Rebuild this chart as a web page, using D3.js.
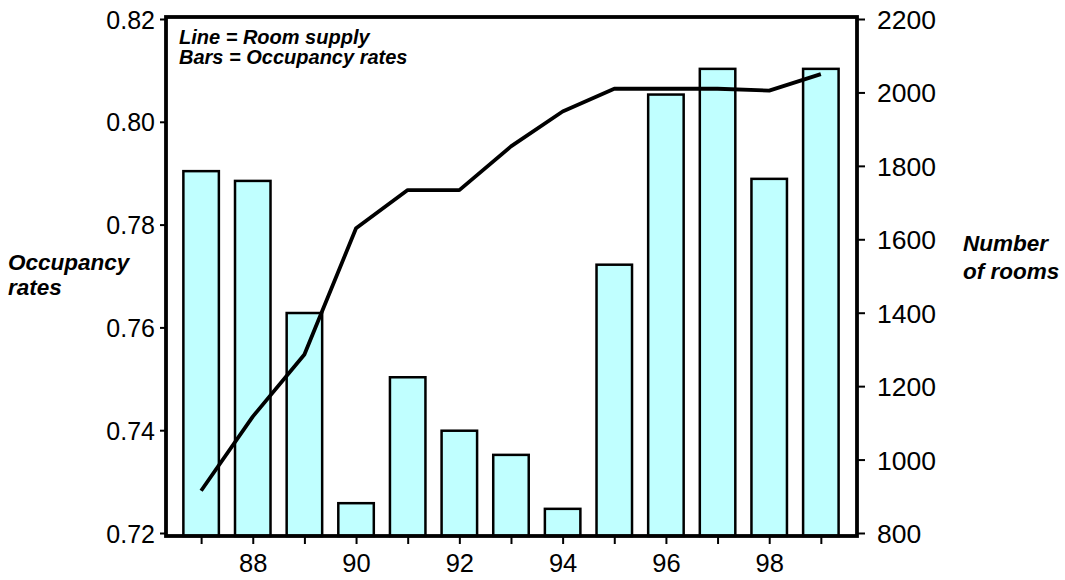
<!DOCTYPE html>
<html><head><meta charset="utf-8">
<script src="https://cdn.jsdelivr.net/npm/d3@7"></script>
<style>body{margin:0;background:#fff}svg{display:block}text{font-family:"Liberation Sans",Arial,sans-serif}</style>
</head><body>
<svg id="c" width="1065" height="580"></svg>
<script>
const years = [87,88,89,90,91,92,93,94,95,96,97,98,99];
const occupancy = [0.7904,0.7885,0.7628,0.7258,0.7503,0.7399,0.7352,0.7247,0.7722,0.8053,0.8103,0.7889,0.8103];
const rooms = [915,1117,1286,1630,1734,1734,1853,1948,2010,2010,2010,2005,2050];
const leftTicks = [0.72,0.74,0.76,0.78,0.80,0.82];
const rightTicks = [800,1000,1200,1400,1600,1800,2000,2200];
const xLabelYears = [88,90,92,94,96,98];

const svg = d3.select("#c");
const L = 166, R = 857, T = 17, B = 536;
const x = d3.scaleLinear().domain([86.32, 99.7]).range([L, R]);
const yL = d3.scaleLinear().domain([0.72, 0.82]).range([533, 19]);
const yR = d3.scaleLinear().domain([800, 2200]).range([533, 19]);
const barW = 35.5;

// bars
svg.append("g").selectAll("rect").data(years).join("rect")
  .attr("x", (d) => x(d) - barW/2)
  .attr("y", (d,i) => yL(occupancy[i]))
  .attr("width", barW)
  .attr("height", (d,i) => B - yL(occupancy[i]))
  .attr("fill", "#C0FFFF").attr("stroke", "#000").attr("stroke-width", 2.5);

// line
svg.append("path").datum(years)
  .attr("d", d3.line().x((d) => x(d)).y((d,i) => yR(rooms[i])))
  .attr("fill", "none").attr("stroke", "#000").attr("stroke-width", 3.8)
  .attr("stroke-linejoin", "round");

// frame
svg.append("rect").attr("x", L).attr("y", T).attr("width", R - L).attr("height", B - T)
  .attr("fill", "none").attr("stroke", "#000").attr("stroke-width", 3.8);

const axL = svg.append("g").attr("transform", `translate(${L},0)`)
  .call(d3.axisLeft(yL).tickValues(leftTicks).tickFormat(d3.format(".2f")).tickSize(6).tickPadding(5));
const axR = svg.append("g").attr("transform", `translate(${R},0)`)
  .call(d3.axisRight(yR).tickValues(rightTicks).tickFormat(d3.format("d")).tickSize(8).tickPadding(12));
const axB = svg.append("g").attr("transform", `translate(0,${B})`)
  .call(d3.axisBottom(x).tickValues(years).tickFormat((d) => xLabelYears.includes(d) ? String(d) : "").tickSize(8).tickPadding(10));

[axL, axR, axB].forEach((g) => {
  g.select(".domain").remove();
  g.selectAll(".tick line").attr("stroke", "#000").attr("stroke-width", 2);
  g.selectAll(".tick text").attr("fill", "#000").style("font-size", "25.5px").style("font-family", '"Liberation Sans", Arial, sans-serif');
});
axL.selectAll(".tick text").style("font-size", "25px").attr("dy", "0.36em");
axR.selectAll(".tick text").style("font-size", "26.5px").attr("dy", "0.36em");

const note = svg.append("g").style("font-weight", "bold").style("font-style", "italic").style("font-size", "20px");
note.append("text").attr("x", 179).attr("y", 44).text("Line = Room supply");
note.append("text").attr("x", 179).attr("y", 64).text("Bars = Occupancy rates");

const lab = svg.append("g").style("font-weight", "bold").style("font-style", "italic").style("font-size", "22.5px");
lab.append("text").attr("x", 8).attr("y", 270).text("Occupancy");
lab.append("text").attr("x", 8).attr("y", 295).text("rates");
lab.append("text").attr("x", 963).attr("y", 251).text("Number");
lab.append("text").attr("x", 963).attr("y", 279).text("of rooms");
</script>
</body></html>
